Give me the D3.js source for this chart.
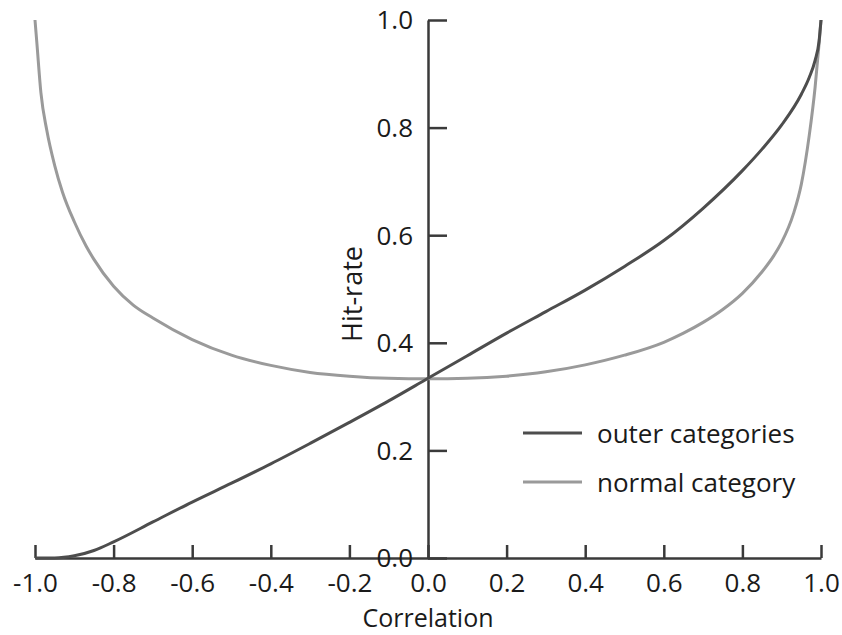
<!DOCTYPE html>
<html>
<head>
<meta charset="utf-8">
<script src="https://cdn.jsdelivr.net/npm/d3@7"></script>
<style>
  html, body { margin: 0; padding: 0; background: #fff; }
  svg { display: block; }
  text { font-family: "Open Sans", "Noto Sans", sans-serif; fill: #1a1a1a; }
</style>
</head>
<body>
<svg id="chart" width="842" height="635"></svg>
<script>
// ---- data ----
const outerCorr = [-1.0, -0.95, -0.9, -0.85, -0.8, -0.7, -0.6, -0.5, -0.4, -0.3, -0.2, -0.1, 0.0,
                   0.1, 0.2, 0.3, 0.4, 0.5, 0.6, 0.7, 0.8, 0.85, 0.9, 0.95, 0.97, 0.985, 0.995, 1.0];
const outerHit  = [0.0, 0.0, 0.004, 0.014, 0.03, 0.067, 0.104, 0.139, 0.175, 0.213, 0.252, 0.292, 0.334,
                   0.376, 0.418, 0.458, 0.498, 0.542, 0.59, 0.65, 0.72, 0.76, 0.805, 0.862, 0.893, 0.925, 0.96, 1.0];

const normalCorr = [-1.0, -0.995, -0.985, -0.97, -0.95, -0.93, -0.9, -0.87, -0.85, -0.8, -0.75, -0.7, -0.6, -0.5, -0.4, -0.3, -0.2, -0.1, 0.0,
                    0.1, 0.2, 0.3, 0.4, 0.5, 0.6, 0.65, 0.7, 0.75, 0.8, 0.85, 0.88, 0.9, 0.93, 0.95, 0.97, 0.985, 0.995, 1.0];
const normalHit  = [1.0, 0.955, 0.865, 0.795, 0.73, 0.68, 0.625, 0.58, 0.555, 0.505, 0.47, 0.446, 0.406, 0.377, 0.358, 0.345, 0.338, 0.334, 0.333,
                    0.334, 0.338, 0.346, 0.359, 0.377, 0.401, 0.418, 0.438, 0.462, 0.492, 0.532, 0.562, 0.587, 0.64, 0.695, 0.785, 0.875, 0.955, 1.0];

const xTicks = [-1.0, -0.8, -0.6, -0.4, -0.2, 0.0, 0.2, 0.4, 0.6, 0.8, 1.0];
const yTicks = [0.0, 0.2, 0.4, 0.6, 0.8, 1.0];
const seriesNames = ["outer categories", "normal category"];
const seriesColors = ["#4d4d4d", "#9a9a9a"];

// ---- drawing ----
const svg = d3.select("#chart");
const x = d3.scaleLinear().domain([-1, 1]).range([35, 821]);
const y = d3.scaleLinear().domain([0, 1]).range([558, 20]);
const axisColor = "#3a3a3a";

// x axis
const gx = svg.append("g").attr("transform", `translate(0,${y(0)})`)
  .call(d3.axisBottom(x).tickValues(xTicks).tickFormat(d3.format(".1f"))
        .tickSizeInner(-13).tickSizeOuter(0).tickPadding(16));
gx.select(".domain").attr("stroke", axisColor).attr("stroke-width", 2.5);
gx.selectAll(".tick line").attr("stroke", axisColor).attr("stroke-width", 2.5);
gx.selectAll(".tick text").attr("font-size", 26).attr("font-family", null).attr("fill", "#1a1a1a")
  .text(d => d3.format(".1f")(d).replace("−", "-"));
gx.attr("font-family", null).attr("font-size", null);

// y axis
const gy = svg.append("g").attr("transform", `translate(${x(0)},0)`)
  .call(d3.axisLeft(y).tickValues(yTicks).tickFormat(d3.format(".1f"))
        .tickSizeInner(-19).tickSizeOuter(0).tickPadding(15));
gy.select(".domain").attr("stroke", axisColor).attr("stroke-width", 2.5);
gy.selectAll(".tick line").attr("stroke", axisColor).attr("stroke-width", 2.5);
gy.selectAll(".tick text").attr("font-size", 26).attr("font-family", null).attr("fill", "#1a1a1a")
  .attr("dy", "0.34em");
gy.attr("font-family", null).attr("font-size", null);

// axis titles
svg.append("text").attr("x", x(0)).attr("y", 627).attr("text-anchor", "middle")
  .attr("font-size", 25).text("Correlation");
svg.append("text").attr("transform", `translate(362,294) rotate(-90)`)
  .attr("text-anchor", "middle").attr("font-size", 27).text("Hit-rate");

// lines
const line = d3.line().x(d => x(d[0])).y(d => y(d[1])).curve(d3.curveMonotoneX);
const normalData = normalCorr.map((c, i) => [c, normalHit[i]]);
const outerData = outerCorr.map((c, i) => [c, outerHit[i]]);
svg.append("path").datum(normalData).attr("d", line)
  .attr("fill", "none").attr("stroke", seriesColors[1]).attr("stroke-width", 3);
svg.append("path").datum(outerData).attr("d", line)
  .attr("fill", "none").attr("stroke", seriesColors[0]).attr("stroke-width", 3);

// legend
const legendY = [433, 482];
seriesNames.forEach((name, i) => {
  svg.append("line").attr("x1", 523).attr("x2", 582)
    .attr("y1", legendY[i]).attr("y2", legendY[i])
    .attr("stroke", seriesColors[i]).attr("stroke-width", 3);
  svg.append("text").attr("x", 597).attr("y", legendY[i] + 10)
    .attr("font-size", 26).text(name);
});
</script>
</body>
</html>
